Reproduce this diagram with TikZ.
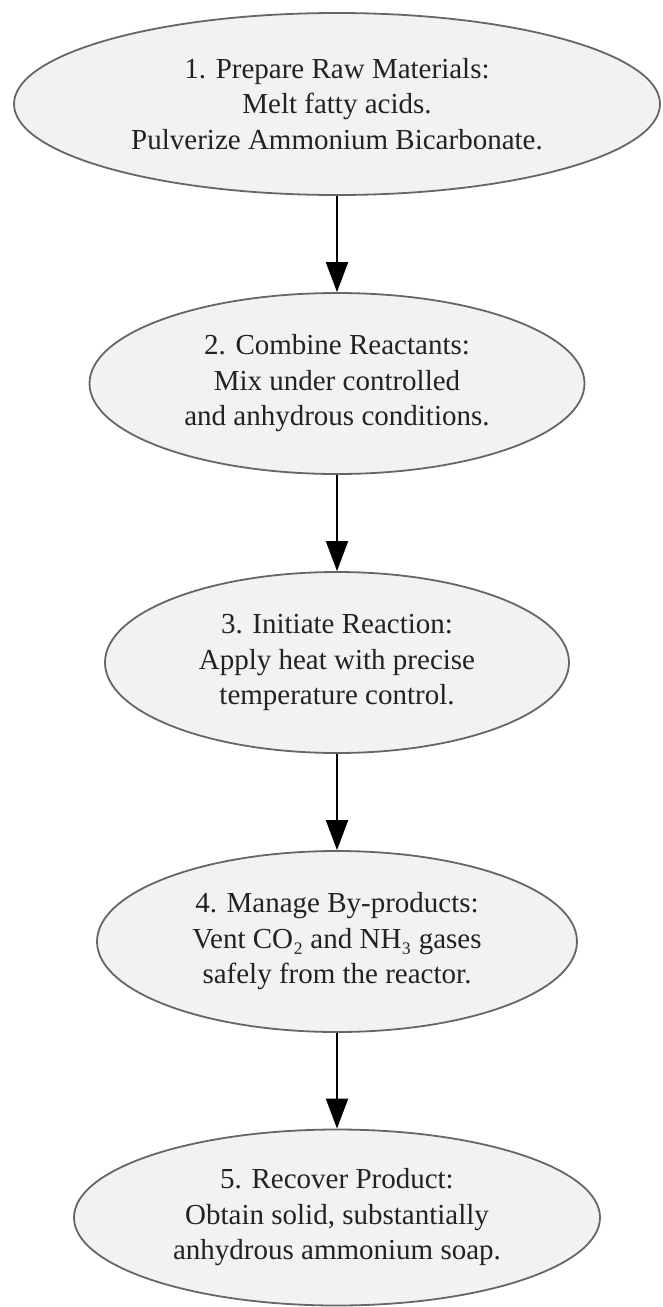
\documentclass[tikz,border=0pt]{standalone}
\usepackage{fontspec}
\setmainfont{Liberation Serif}
\usetikzlibrary{shapes.geometric,arrows.meta}
\definecolor{nodefill}{HTML}{F1F2F4}
\definecolor{nodeline}{HTML}{666666}
\definecolor{txt}{HTML}{222222}
\tikzset{
  stepnode/.style={ellipse, draw=nodeline, fill=nodefill, line width=1.8pt,
    inner sep=0pt, align=center, text=txt,
    font=\fontsize{29}{35.5}\selectfont},
  flowarrow/.style={draw=black, line width=2pt,
    -{Triangle[length=30pt,width=22pt]}}
}
\begin{document}
\begin{tikzpicture}[x=1pt,y=-1pt]
\useasboundingbox (0,0) rectangle (662,1307);
\node[stepnode, minimum width=646pt, minimum height=182pt] (s1) at (337,104)
  {1. Prepare Raw Materials:\\Melt fatty acids.\\Pulverize Ammonium Bicarbonate.};
\node[stepnode, minimum width=495pt, minimum height=181pt] (s2) at (337,383.5)
  {2. Combine Reactants:\\Mix under controlled\\and anhydrous conditions.};
\node[stepnode, minimum width=464pt, minimum height=181pt] (s3) at (337,662.5)
  {3. Initiate Reaction:\\Apply heat with precise\\temperature control.};
\node[stepnode, minimum width=480pt, minimum height=181pt] (s4) at (337,941.5)
  {4. Manage By-products:\\Vent CO₂ and NH₃ gases\\safely from the reactor.};
\node[stepnode, minimum width=526pt, minimum height=176pt] (s5) at (337,1217.5)
  {5. Recover Product:\\Obtain solid, substantially\\anhydrous ammonium soap.};
\draw[flowarrow] (s1.south) -- (s2.north);
\draw[flowarrow] (s2.south) -- (s3.north);
\draw[flowarrow] (s3.south) -- (s4.north);
\draw[flowarrow] (s4.south) -- (s5.north);
\end{tikzpicture}
\end{document}
